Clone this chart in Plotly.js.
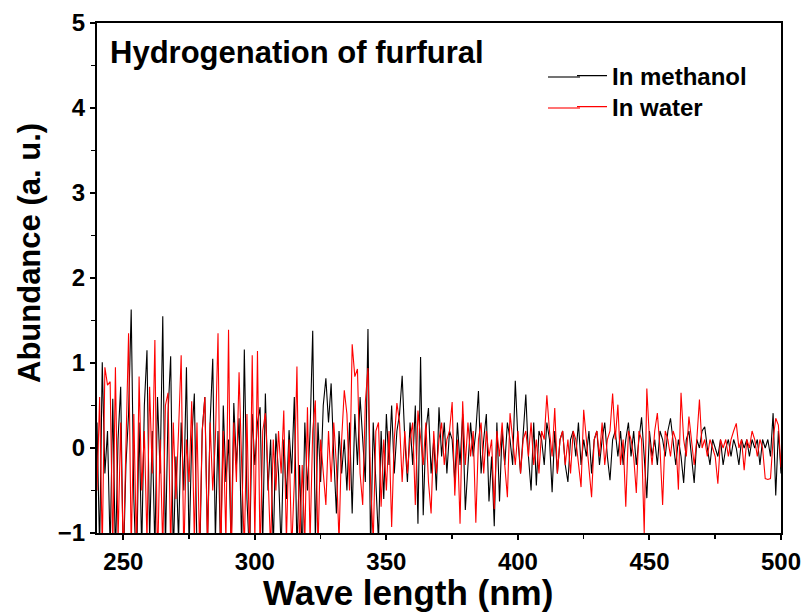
<!DOCTYPE html>
<html>
<head>
<meta charset="utf-8">
<script src="https://cdn.plot.ly/plotly-3.0.1.min.js"></script>
<style>html,body{margin:0;padding:0;background:#fff;}#chart{width:806px;height:614px;}</style>
</head>
<body>
<div id="chart"></div>
<script>
// Wavelength grid (nm), one reading per nm from 240 to 500
const wavelength = [];
for (let w = 240; w <= 500; w++) wavelength.push(w);

// Abundance in methanol (black)
const methanol = [
 0.3,-1.2,1.01,-0.3,0.2,-1.2,0.58,-1.3,0.1,0.72,
 -1.4,-0.2,0.4,1.63,-0.6,-1.5,0.3,-1.2,0.5,1.15,
 -1.1,0.2,-1.2,0.6,-0.3,1.55,-1.2,0.4,1.08,-1.3,
 -0.1,-1.1,0.3,-0.5,0.95,-1.2,0.1,0.64,-1.2,-1.4,
 0.21,0.6,-1.1,0.3,1.05,-1.1,0.2,-1.3,0.5,-0.4,
 0.1,-1.2,0.53,-0.2,0.35,-1.2,1.16,-0.6,-1.3,0.4,
 -0.2,0.3,0.48,-1.1,0.64,-0.5,0.1,-1.2,0.17,-0.3,
 -1.2,0.1,-0.6,0.21,-0.3,0.6,-1.2,-0.2,-1.3,0.3,
 -0.5,0.2,1.38,-1.1,0.3,-0.4,0.5,0.82,0.3,0.76,
 -0.1,-0.77,0.2,-0.3,0.1,-0.5,0.3,-0.77,0.4,-0.2,
 0.6,0.1,-0.4,1.4,-1.2,0.3,-0.5,-1.1,0.2,-0.6,
 0.4,-0.2,0.5,-0.3,0.2,0.4,0.85,0.1,-0.4,0.3,
 -0.2,0.5,-0.89,1.07,-0.79,0.2,0.47,-0.3,0.1,-0.5,
 0.48,-0.1,0.3,-0.3,0.2,0.1,-0.4,0.3,-0.2,0.4,
 -0.73,-0.2,0.3,-0.1,0.2,0.67,-0.3,0.1,0.4,-0.63,
 -0.1,-0.92,0.3,-0.63,0.2,-0.2,0.3,0.1,-0.2,0.79,
 0.1,-0.3,0.2,0.63,-0.1,-0.5,0.3,-0.44,0.2,0.1,
 -0.2,0.3,0.1,-0.52,0.2,-0.3,0.1,0.2,-0.2,-0.4,
 0.1,0.2,-0.1,0.3,-0.2,0.1,-0.1,0.2,-0.3,0.1,
 0.2,-0.2,0.1,0.3,-0.1,-0.38,0.1,0.2,-0.1,0.2,
 -0.2,0.1,0.3,-0.1,0.2,-0.2,0.1,0.36,-0.1,-0.59,
 0.2,-0.1,0.1,-0.2,0.2,0.1,-0.1,0.2,0.35,0.1,
 -0.2,0.1,-0.1,-0.41,0.1,0.2,-0.1,-0.41,0.1,0.0,
 0.2,0.25,0.0,-0.2,0.1,0.0,-0.1,0.1,-0.2,0.0,
 0.1,-0.1,0.1,0.0,-0.2,0.1,0.0,0.1,-0.1,0.1,
 0.0,0.1,-0.2,0.1,0.0,0.1,-0.1,0.41,-0.56,0.2,
 -0.3
];

// Abundance in water (red)
const water = [
 -0.5,0.6,-1.2,0.95,0.74,0.78,-1.2,0.95,-1.1,0.3,
 -1.3,0.1,1.35,-1.2,0.4,-1.2,0.84,-0.5,0.2,-1.1,
 0.72,-0.3,1.27,-1.4,0.1,-1.2,0.5,0.65,-1.2,0.3,
 -0.6,0.2,1.09,-1.3,0.1,-0.4,0.55,-1.1,0.3,-1.2,
 0.2,0.6,-1.2,0.3,-0.5,0.1,1.35,-1.3,0.2,-1.1,
 1.39,-1.4,0.3,-0.4,0.89,-0.2,-1.2,0.4,-1.2,1.09,
 -1.1,1.14,-1.3,0.2,0.41,-0.3,-1.2,0.1,-0.5,0.2,
 -0.3,0.44,-1.1,0.1,-1.2,-0.4,0.96,-1.2,-0.2,-1.1,
 0.48,-1.1,0.2,0.56,-1.2,0.1,-0.3,-0.67,0.2,-0.4,
 0.3,-0.2,-1.1,0.1,0.68,0.4,-0.5,1.22,0.84,0.93,
 -0.3,-0.67,0.54,0.94,-0.4,-1.1,0.2,0.3,-0.69,0.1,
 -0.5,0.2,-0.93,0.1,0.53,0.3,-0.4,0.2,-0.3,0.1,
 0.3,-0.67,0.44,0.1,-0.2,0.3,-0.4,-0.77,0.2,-0.3,
 0.1,0.3,-0.2,0.1,0.2,0.54,-0.56,0.1,-0.89,0.55,
 -0.2,0.3,-0.1,0.2,-0.88,0.1,0.3,-0.3,0.2,-0.1,
 0.1,-0.72,0.2,-0.1,0.3,-0.2,-0.58,0.41,0.1,-0.2,
 0.2,-0.3,0.1,0.2,-0.1,0.3,-0.2,0.1,-0.3,0.2,
 0.1,0.62,0.2,-0.1,0.47,-0.3,0.1,0.2,-0.2,0.1,
 -0.3,0.2,0.1,-0.2,-0.46,0.45,0.1,-0.2,-0.58,0.1,
 0.2,-0.1,0.3,-0.2,0.1,0.2,0.64,0.1,0.51,-0.2,
 0.1,-0.69,0.2,0.1,-0.1,-0.53,0.2,0.1,-1.0,0.7,
 0.1,-0.2,0.2,0.41,0.0,-0.67,0.2,0.1,-0.1,0.2,
 0.1,-0.49,0.65,0.1,-0.1,0.37,0.1,-0.2,0.1,0.57,
 0.0,0.1,-0.1,0.1,0.0,-0.1,-0.42,0.1,0.0,0.1,
 -0.1,0.1,0.2,0.29,0.0,0.1,-0.26,0.1,0.0,0.2,
 0.1,-0.1,0.1,0.0,-0.36,-0.37,-0.36,0.1,0.35,0.27,
 -0.23
];

const seriesNames = ['In methanol', 'In water'];
const seriesColors = ['#000000', '#ff0000'];
const xTickVals = [250, 300, 350, 400, 450, 500];
const yTickVals = [-1, 0, 1, 2, 3, 4, 5];

const FONT = '"Liberation Sans", Arial, sans-serif';

const traces = [
  {x: wavelength, y: methanol, name: seriesNames[0], type: 'scatter', mode: 'lines',
   line: {color: seriesColors[0], width: 1.1}, legend: 'legend'},
  {x: wavelength, y: water, name: seriesNames[1], type: 'scatter', mode: 'lines',
   line: {color: seriesColors[1], width: 1.1}, legend: 'legend2'}
];

const axisCommon = {
  showgrid: false, zeroline: false, showline: true, linecolor: '#000', linewidth: 2,
  mirror: true, ticks: 'outside', ticklen: 5, tickwidth: 2, tickcolor: '#000',
  tickfont: {family: FONT, size: 24, color: '#000', weight: 'bold'}
};
const mirrorCommon = {
  showgrid: false, zeroline: false, showline: false, ticks: 'inside', ticklen: 6,
  tickwidth: 2, tickcolor: '#000', showticklabels: false
};

// px -> paper helpers
const PX = v => (v - 97) / 684;
const PY = v => 1 - (v - 23) / 510;
const legRow = [76, 107];

const legendCommon = {
  x: PX(572), xanchor: 'left', yanchor: 'middle',
  bgcolor: 'rgba(0,0,0,0)', borderwidth: 0,
  font: {family: FONT, size: 24, color: '#000', weight: 'bold'}
};

const layout = {
  width: 806, height: 614,
  margin: {l: 97, r: 25, t: 23, b: 81},
  paper_bgcolor: '#fff', plot_bgcolor: '#fff',
  showlegend: true,
  legend: Object.assign({}, legendCommon, {y: PY(legRow[0])}),
  legend2: Object.assign({}, legendCommon, {y: PY(legRow[1])}),
  xaxis: Object.assign({}, axisCommon, {
    range: [240, 500], tickvals: xTickVals, ticklabelstandoff: 1,
    minor: {dtick: 25, tick0: 250, ticks: 'outside', ticklen: 4, tickwidth: 1.5, tickcolor: '#000'}
  }),
  yaxis: Object.assign({}, axisCommon, {
    range: [-1, 5], tickvals: yTickVals,
    minor: {dtick: 0.5, tick0: 0, ticks: 'outside', ticklen: 4, tickwidth: 1.5, tickcolor: '#000'}
  }),
  xaxis2: Object.assign({}, mirrorCommon, {
    overlaying: 'x', side: 'top', anchor: 'y', range: [240, 500], tickvals: xTickVals,
    minor: {dtick: 25, tick0: 250, ticks: 'inside', ticklen: 4, tickwidth: 1.5, tickcolor: '#000'}
  }),
  yaxis2: Object.assign({}, mirrorCommon, {
    overlaying: 'y', side: 'right', anchor: 'x', range: [-1, 5], tickvals: yTickVals,
    minor: {dtick: 0.5, tick0: 0, ticks: 'inside', ticklen: 4, tickwidth: 1.5, tickcolor: '#000'}
  }),
  // lengthen the legend line samples to the reference's longer strokes
  shapes: legRow.map((r, i) => ({type: 'line', xref: 'paper', yref: 'paper',
    x0: PX(548), x1: PX(580), y0: PY(r + 1), y1: PY(r + 1),
    line: {color: seriesColors[i], width: 1.1}})),
  annotations: [
    {text: 'Hydrogenation of furfural', xref: 'paper', yref: 'paper', x: PX(108), y: PY(52),
     xanchor: 'left', yanchor: 'middle', showarrow: false,
     font: {family: FONT, size: 31, color: '#000', weight: 'bold'}},
    {text: 'Wave length (nm)', xref: 'paper', yref: 'paper', x: PX(408), y: PY(592),
     xanchor: 'center', yanchor: 'middle', showarrow: false,
     font: {family: FONT, size: 35, color: '#000', weight: 'bold'}},
    {text: 'Abundance (a. u.)', xref: 'paper', yref: 'paper', x: PX(30), y: PY(253),
     xanchor: 'center', yanchor: 'middle', textangle: -90, showarrow: false,
     font: {family: FONT, size: 31, color: '#000', weight: 'bold'}}
  ]
};

Plotly.newPlot('chart', traces, layout, {displayModeBar: false, staticPlot: true});
</script>
</body>
</html>
